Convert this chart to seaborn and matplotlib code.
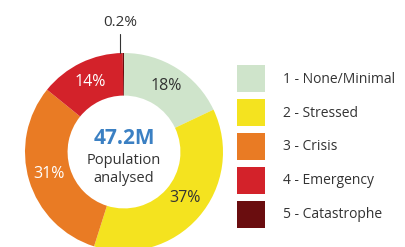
import matplotlib
matplotlib.use("Agg")
import matplotlib.pyplot as plt
import matplotlib.patches as mpatches
import numpy as np
import seaborn as sns

# IPC phase breakdown
phases = ["1 - None/Minimal", "2 - Stressed", "3 - Crisis", "4 - Emergency", "5 - Catastrophe"]
shares = [18, 37, 31, 14, 0.2]
share_labels = ["18%", "37%", "31%", "14%", "0.2%"]
colors = ["#cfe4cb", "#f4e31f", "#e97b24", "#d3222a", "#6a0d0f"]
label_colors = ["#333333", "#333333", "white", "white", "#333333"]
total_label = "47.2M"

sns.set_style("white")
plt.rcParams["font.family"] = ["Open Sans", "DejaVu Sans"]

W, H = 406, 247
fig = plt.figure(figsize=(W / 100, H / 100), dpi=100)

# donut axes: center (124, 152) px, radius 99 px
cx, cy, r = 124, 152, 99
ax = fig.add_axes([(cx - r) / W, (H - cy - r) / H, 2 * r / W, 2 * r / H])
wedges, _ = ax.pie(shares, colors=colors, startangle=90, counterclock=False,
                   radius=1.0, wedgeprops=dict(width=0.43, edgecolor="none"))
ax.set_xlim(-1, 1)
ax.set_ylim(-1, 1)
ax.set_aspect("equal")
ax.axis("off")

for w, lab, col in zip(wedges[:4], share_labels[:4], label_colors[:4]):
    ang = np.deg2rad((w.theta1 + w.theta2) / 2)
    rr = 0.77 if lab == "37%" else 0.79
    ax.text(rr * np.cos(ang) + (0.04 if lab == "37%" else 0), rr * np.sin(ang) + (0.04 if lab == "37%" else 0),
            lab, ha="center", va="center", color=col, fontsize=11.5)

# tiny slice: leader line and label above
w = wedges[4]
ang = np.deg2rad((w.theta1 + w.theta2) / 2)
x0, y0 = np.cos(ang), np.sin(ang)
ax.plot([x0 - 0.03, x0 - 0.03], [y0, y0 + 0.19], color="#333333", lw=0.8, clip_on=False)
ax.text(x0 - 0.03, y0 + 0.31, share_labels[4], ha="center", va="center",
        color="#333333", fontsize=11, clip_on=False)

ax.text(0, 0.14, total_label, ha="center", va="center", color="#3b80c3",
        fontsize=15, fontweight="bold")
ax.text(0, -0.09, "Population", ha="center", va="center", color="#333333", fontsize=10.5)
ax.text(0, -0.27, "analysed", ha="center", va="center", color="#333333", fontsize=10.5)

handles = [mpatches.Patch(facecolor=c, edgecolor="none") for c in colors]
fig.legend(handles, phases, loc="upper left", bbox_to_anchor=(237 / W, 1 - 65 / H),
           frameon=False, fontsize=10, handlelength=2.0, handleheight=2.61,
           labelspacing=0.5, handletextpad=1.3, borderpad=0, borderaxespad=0,
           labelcolor="#333333")

fig.savefig("out.png", dpi=100)
